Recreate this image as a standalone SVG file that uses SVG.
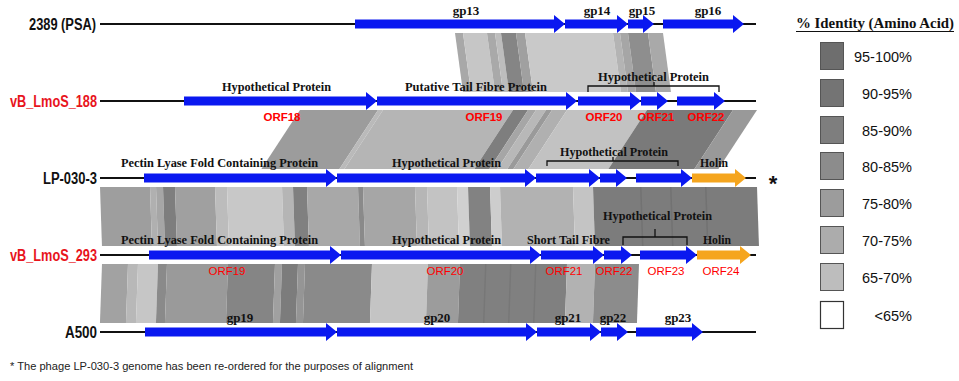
<svg xmlns="http://www.w3.org/2000/svg" width="959" height="381" viewBox="0 0 959 381">
<style>
.gl{font-family:"Liberation Sans",Arial,sans-serif;font-weight:bold;font-size:16px;fill:#111}
.gr{fill:#e8141c}
.gn{font-family:"Liberation Serif","Times New Roman",serif;font-weight:bold;font-size:12.5px;fill:#111}
.gp{font-family:"Liberation Serif","Times New Roman",serif;font-weight:bold;font-size:13px;fill:#111;text-anchor:middle}
.orfb{font-family:"Liberation Sans",Arial,sans-serif;font-weight:bold;font-size:11.5px;fill:#ff0000;text-anchor:middle}
.orf{font-family:"Liberation Sans",Arial,sans-serif;font-size:11.5px;fill:#ff0000;text-anchor:middle}
.ln{stroke:#111;stroke-width:2;fill:none}
.br{stroke:#111;stroke-width:1.3;fill:none}
.b{fill:#0a18f0}
.o{fill:#f5a51e}
.lt{font-family:"Liberation Sans",Arial,sans-serif;font-size:14.5px;fill:#111;text-anchor:end}
.sq{stroke:#555;stroke-width:1}
</style>

<g id="connectors">
  <g id="band1" transform="translate(0,33) skewX(7.7)">
    <rect x="455" y="0" width="8" height="59" fill="#a8a8a8"/>
    <rect x="463" y="0" width="24" height="59" fill="#c6c6c6"/>
    <rect x="487" y="0" width="8" height="59" fill="#a9a9a9"/>
    <rect x="495" y="0" width="6" height="59" fill="#bdbdbd"/>
    <rect x="501" y="0" width="15" height="59" fill="#858585"/>
    <rect x="516" y="0" width="9" height="59" fill="#a0a0a0"/>
    <rect x="525" y="0" width="88" height="59" fill="#c9c9c9"/>
    <rect x="613" y="0" width="7" height="59" fill="#b4b4b4"/>
    <rect x="620" y="0" width="8" height="59" fill="#a6a6a6"/>
    <rect x="628" y="0" width="20" height="59" fill="#8e8e8e"/>
    <rect x="648" y="0" width="15" height="59" fill="#a9a9a9"/>
  </g>
  <g id="band2" transform="translate(0,110) skewX(-33.2)">
    <rect x="300" y="0" width="78" height="59" fill="#9c9c9c"/>
    <rect x="378" y="0" width="5" height="59" fill="#bababa"/>
    <rect x="383" y="0" width="130" height="59" fill="#b5b5b5"/>
    <rect x="513" y="0" width="15" height="59" fill="#7e7e7e"/>
    <rect x="528" y="0" width="8" height="59" fill="#a6a6a6"/>
    <rect x="536" y="0" width="10" height="59" fill="#b8b8b8"/>
    <rect x="546" y="0" width="6" height="59" fill="#9a9a9a"/>
    <rect x="552" y="0" width="15" height="59" fill="#b0b0b0"/>
    <rect x="567" y="0" width="80" height="59" fill="#c2c2c2"/>
    <rect x="647" y="0" width="86" height="59" fill="#7a7a7a"/>
    <rect x="733" y="0" width="24" height="59" fill="#999999"/>
  </g>
  <g id="band3" transform="translate(0,187) skewX(1.9)">
    <rect x="100" y="0" width="50" height="59" fill="#9e9e9e"/>
    <rect x="150" y="0" width="6" height="59" fill="#b0b0b0"/>
    <rect x="156" y="0" width="7" height="59" fill="#a6a6a6"/>
    <rect x="163" y="0" width="12" height="59" fill="#7e7e7e"/>
    <rect x="175" y="0" width="40" height="59" fill="#a0a0a0"/>
    <rect x="215" y="0" width="12" height="59" fill="#bcbcbc"/>
    <rect x="227" y="0" width="55" height="59" fill="#c8c8c8"/>
    <rect x="282" y="0" width="11" height="59" fill="#b5b5b5"/>
    <rect x="293" y="0" width="14" height="59" fill="#808080"/>
    <rect x="307" y="0" width="51" height="59" fill="#a8a8a8"/>
    <rect x="358" y="0" width="5" height="59" fill="#8a8a8a"/>
    <rect x="363" y="0" width="52" height="59" fill="#a6a6a6"/>
    <rect x="415" y="0" width="12" height="59" fill="#b6b6b6"/>
    <rect x="427" y="0" width="30" height="59" fill="#c3c3c3"/>
    <rect x="457" y="0" width="11" height="59" fill="#d0d0d0"/>
    <rect x="468" y="0" width="22" height="59" fill="#828282"/>
    <rect x="490" y="0" width="10" height="59" fill="#cdcdcd"/>
    <rect x="500" y="0" width="73" height="59" fill="#b2b2b2"/>
    <rect x="573" y="0" width="20" height="59" fill="#c4c4c4"/>
    <rect x="593" y="0" width="164" height="59" fill="#7c7c7c"/>
    <rect x="640" y="0" width="1.5" height="59" fill="#727272"/>
    <rect x="670" y="0" width="1.5" height="59" fill="#727272"/>
    <rect x="705" y="0" width="1.5" height="59" fill="#727272"/>
  </g>
  <g id="band4" transform="translate(0,264) skewX(-2)">
    <rect x="102" y="0" width="26" height="59" fill="#a2a2a2"/>
    <rect x="128" y="0" width="10" height="59" fill="#b8b8b8"/>
    <rect x="138" y="0" width="20" height="59" fill="#c6c6c6"/>
    <rect x="158" y="0" width="9" height="59" fill="#8a8a8a"/>
    <rect x="167" y="0" width="61" height="59" fill="#9a9a9a"/>
    <rect x="228" y="0" width="47" height="59" fill="#858585"/>
    <rect x="275" y="0" width="7" height="59" fill="#a0a0a0"/>
    <rect x="282" y="0" width="16" height="59" fill="#7c7c7c"/>
    <rect x="298" y="0" width="7" height="59" fill="#959595"/>
    <rect x="305" y="0" width="67" height="59" fill="#8a8a8a"/>
    <rect x="372" y="0" width="56" height="59" fill="#c4c4c4"/>
    <rect x="428" y="0" width="32" height="59" fill="#9c9c9c"/>
    <rect x="460" y="0" width="107" height="59" fill="#808080"/>
    <rect x="485" y="0" width="1.5" height="59" fill="#777"/>
    <rect x="510" y="0" width="1.5" height="59" fill="#777"/>
    <rect x="535" y="0" width="1.5" height="59" fill="#777"/>
    <rect x="567" y="0" width="28" height="59" fill="#b2b2b2"/>
    <rect x="595" y="0" width="44" height="59" fill="#8c8c8c"/>
  </g>
</g>

<g id="genome-2389">
  <line class="ln" x1="100" y1="24" x2="756" y2="24"/>
  <path class="b" d="M355 19.5H554V15L565 24L554 33V28.5H355Z"/>
  <path class="b" d="M565 19.5H617V15L628 24L617 33V28.5H565Z"/>
  <path class="b" d="M628 19.5H643V15L654 24L643 33V28.5H628Z"/>
  <path class="b" d="M663 19.5H733V15L744 24L733 33V28.5H663Z"/>
  <text class="gl" x="29" y="30" textLength="67" lengthAdjust="spacingAndGlyphs">2389 (PSA)</text>
  <text class="gp" x="466" y="15">gp13</text>
  <text class="gp" x="597" y="15">gp14</text>
  <text class="gp" x="642" y="15">gp15</text>
  <text class="gp" x="708" y="15">gp16</text>
</g>

<g id="genome-vB_LmoS_188">
  <line class="ln" x1="100" y1="101" x2="756" y2="101"/>
  <path class="b" d="M184 96.5H366V92L377 101L366 110V105.5H184Z"/>
  <path class="b" d="M377 96.5H566V92L577 101L566 110V105.5H377Z"/>
  <path class="b" d="M578 96.5H630V92L641 101L630 110V105.5H578Z"/>
  <path class="b" d="M641 96.5H657V92L668 101L657 110V105.5H641Z"/>
  <path class="b" d="M677 96.5H714V92L725 101L714 110V105.5H677Z"/>
  <text class="gl gr" x="10" y="107" textLength="87" lengthAdjust="spacingAndGlyphs">vB_LmoS_188</text>
  <text class="gn" x="222" y="91" textLength="109" lengthAdjust="spacingAndGlyphs">Hypothetical Protein</text>
  <text class="gn" x="405" y="91" textLength="142" lengthAdjust="spacingAndGlyphs">Putative Tail Fibre Protein</text>
  <text class="gn" x="598" y="81" textLength="111" lengthAdjust="spacingAndGlyphs">Hypothetical Protein</text>
  <path class="br" d="M588 92V86H719V92M654 86V82"/>
  <text class="orfb" x="282" y="121">ORF18</text>
  <text class="orfb" x="484" y="121">ORF19</text>
  <text class="orfb" x="604" y="121">ORF20</text>
  <text class="orfb" x="656" y="121">ORF21</text>
  <text class="orfb" x="706" y="121">ORF22</text>
</g>

<g id="genome-LP-030-3">
  <line class="ln" x1="100" y1="178" x2="756" y2="178"/>
  <path class="b" d="M144 173.5H326V169L337 178L326 187V182.5H144Z"/>
  <path class="b" d="M337 173.5H525V169L536 178L525 187V182.5H337Z"/>
  <path class="b" d="M536 173.5H589V169L600 178L589 187V182.5H536Z"/>
  <path class="b" d="M600 173.5H616V169L627 178L616 187V182.5H600Z"/>
  <path class="b" d="M636 173.5H681V169L692 178L681 187V182.5H636Z"/>
  <path class="o" d="M692 173.5H735V169L746 178L735 187V182.5H692Z"/>
  <text class="gl" x="43" y="184" textLength="54" lengthAdjust="spacingAndGlyphs">LP-030-3</text>
  <text class="gn" x="121" y="167" textLength="197" lengthAdjust="spacingAndGlyphs">Pectin Lyase Fold Containing Protein</text>
  <text class="gn" x="392" y="167" textLength="109" lengthAdjust="spacingAndGlyphs">Hypothetical Protein</text>
  <text class="gn" x="560" y="156" textLength="108" lengthAdjust="spacingAndGlyphs">Hypothetical Protein</text>
  <path class="br" d="M547 166V161H678V166M613 161V157"/>
  <text class="gn" x="700" y="167" textLength="28" lengthAdjust="spacingAndGlyphs">Holin</text>
  <text x="773" y="191" font-family="Liberation Sans,Arial,sans-serif" font-weight="bold" font-size="22" fill="#111" text-anchor="middle">*</text>
</g>

<g id="genome-vB_LmoS_293">
  <line class="ln" x1="100" y1="255" x2="756" y2="255"/>
  <path class="b" d="M149 250.5H330V246L341 255L330 264V259.5H149Z"/>
  <path class="b" d="M341 250.5H530V246L541 255L530 264V259.5H341Z"/>
  <path class="b" d="M541 250.5H593V246L604 255L593 264V259.5H541Z"/>
  <path class="b" d="M604 250.5H621V246L632 255L621 264V259.5H604Z"/>
  <path class="b" d="M640 250.5H686V246L697 255L686 264V259.5H640Z"/>
  <path class="o" d="M697 250.5H740V246L751 255L740 264V259.5H697Z"/>
  <text class="gl gr" x="10" y="261" textLength="87" lengthAdjust="spacingAndGlyphs">vB_LmoS_293</text>
  <text class="gn" x="121" y="244" textLength="197" lengthAdjust="spacingAndGlyphs">Pectin Lyase Fold Containing Protein</text>
  <text class="gn" x="392" y="244" textLength="109" lengthAdjust="spacingAndGlyphs">Hypothetical Protein</text>
  <text class="gn" x="527" y="244" textLength="83" lengthAdjust="spacingAndGlyphs">Short Tail Fibre</text>
  <text class="gn" x="603" y="220" textLength="109" lengthAdjust="spacingAndGlyphs">Hypothetical Protein</text>
  <path class="br" d="M623 245V237H687V245M655 237V229"/>
  <text class="gn" x="703" y="244" textLength="28" lengthAdjust="spacingAndGlyphs">Holin</text>
  <text class="orf" x="227" y="275">ORF19</text>
  <text class="orf" x="445" y="275">ORF20</text>
  <text class="orf" x="564" y="275">ORF21</text>
  <text class="orf" x="614" y="275">ORF22</text>
  <text class="orf" x="666" y="275">ORF23</text>
  <text class="orf" x="721" y="275">ORF24</text>
</g>

<g id="genome-A500">
  <line class="ln" x1="100" y1="332" x2="756" y2="332"/>
  <path class="b" d="M145 327.5H326V323L337 332L326 341V336.5H145Z"/>
  <path class="b" d="M337 327.5H526V323L537 332L526 341V336.5H337Z"/>
  <path class="b" d="M537 327.5H590V323L601 332L590 341V336.5H537Z"/>
  <path class="b" d="M601 327.5H617V323L628 332L617 341V336.5H601Z"/>
  <path class="b" d="M636 327.5H692V323L703 332L692 341V336.5H636Z"/>
  <text class="gl" x="65" y="338" textLength="32" lengthAdjust="spacingAndGlyphs">A500</text>
  <text class="gp" x="240" y="322">gp19</text>
  <text class="gp" x="437" y="322">gp20</text>
  <text class="gp" x="568" y="322">gp21</text>
  <text class="gp" x="613" y="322">gp22</text>
  <text class="gp" x="678" y="322">gp23</text>
</g>

<g id="legend">
  <text x="796" y="28" font-family="Liberation Serif,Times New Roman,serif" font-weight="bold" font-size="14" fill="#111" textLength="158" lengthAdjust="spacingAndGlyphs">% Identity (Amino Acid)</text>
  <line x1="796" y1="31.5" x2="954" y2="31.5" stroke="#111" stroke-width="1"/>
  <rect class="sq" x="820.5" y="42.5" width="23" height="27" fill="#6e6e6e"/>
  <text class="lt" x="912" y="62">95-100%</text>
  <rect class="sq" x="820.5" y="79.5" width="23" height="27" fill="#747474"/>
  <text class="lt" x="912" y="99">90-95%</text>
  <rect class="sq" x="820.5" y="116.5" width="23" height="27" fill="#7e7e7e"/>
  <text class="lt" x="912" y="136">85-90%</text>
  <rect class="sq" x="820.5" y="152.5" width="23" height="27" fill="#8c8c8c"/>
  <text class="lt" x="912" y="172">80-85%</text>
  <rect class="sq" x="820.5" y="189.5" width="23" height="27" fill="#9c9c9c"/>
  <text class="lt" x="912" y="209">75-80%</text>
  <rect class="sq" x="820.5" y="226.5" width="23" height="27" fill="#acacac"/>
  <text class="lt" x="912" y="246">70-75%</text>
  <rect class="sq" x="820.5" y="263.5" width="23" height="27" fill="#bdbdbd"/>
  <text class="lt" x="912" y="283">65-70%</text>
  <rect x="820.5" y="301.5" width="23" height="27" fill="#ffffff" stroke="#333" stroke-width="1.2"/>
  <text class="lt" x="912" y="321">&lt;65%</text>
</g>

<text id="footnote" x="10" y="370" font-family="Liberation Sans,Arial,sans-serif" font-size="11" fill="#222" textLength="403" lengthAdjust="spacingAndGlyphs">* The phage LP-030-3 genome has been re-ordered for the purposes of alignment</text>
</svg>
